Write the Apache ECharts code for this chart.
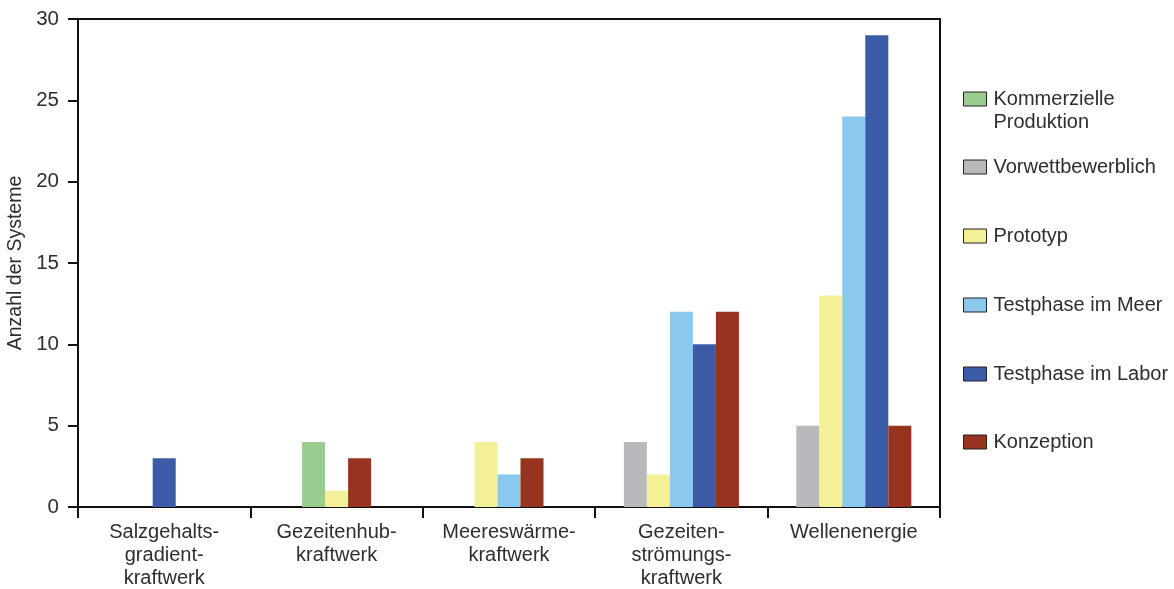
<!DOCTYPE html>
<html>
<head>
<meta charset="utf-8">
<script src="https://cdn.jsdelivr.net/npm/echarts@6/dist/echarts.min.js"></script>
<style>
  html, body { margin: 0; padding: 0; background: #fff; }
  #main { width: 1174px; height: 589px; }
</style>
</head>
<body>
<div id="main"></div>
<script>
// Kategorien (x-Achse)
var categories = [
  'Salzgehalts-\ngradient-\nkraftwerk',
  'Gezeitenhub-\nkraftwerk',
  'Meereswärme-\nkraftwerk',
  'Gezeiten-\nströmungs-\nkraftwerk',
  'Wellenenergie'
];
var seriesNames = [
  'Kommerzielle Produktion',
  'Vorwettbewerblich',
  'Prototyp',
  'Testphase im Meer',
  'Testphase im Labor',
  'Konzeption'
];
var kommerziell = [0, 4, 0, 0, 0];
var vorwettbewerblich = [0, 0, 0, 4, 5];
var prototyp = [0, 1, 4, 2, 13];
var testMeer = [0, 0, 2, 12, 24];
var testLabor = [3, 0, 0, 10, 29];
var konzeption = [0, 3, 3, 12, 5];
var yTicks = [0, 5, 10, 15, 20, 25, 30];

var allValues = [kommerziell, vorwettbewerblich, prototyp, testMeer, testLabor, konzeption];
var colors = ['#98cd8d', '#b8b9bc', '#f3f097', '#8ac8ee', '#3c5ba7', '#96341f'];
var legendCenters = [99, 167, 236, 305, 374, 442];

var textColor = '#2e2e2e';
var font = '"Liberation Sans", Arial, sans-serif';

// Balken pro Kategorie zentriert, nur die vorhandenen Werte
function makeRender(s) {
  return function (params, api) {
    var cat = api.value(0);
    var val = api.value(1);
    if (!val) return null;
    var present = [];
    for (var i = 0; i < allValues.length; i++) {
      if (allValues[i][cat] > 0) present.push(i);
    }
    var k = present.indexOf(s);
    var n = present.length;
    var bandW = api.size([1, 0])[0];
    var barW = bandW * 0.1335;
    var base = api.coord([cat, 0]);
    var top = api.coord([cat, val]);
    return {
      type: 'rect',
      shape: {
        x: base[0] - n * barW / 2 + k * barW,
        y: top[1],
        width: barW,
        height: base[1] - top[1]
      },
      style: api.style()
    };
  };
}

var series = [];
var legends = [];
for (var s = 0; s < seriesNames.length; s++) {
  series.push({
    name: seriesNames[s],
    type: 'custom',
    renderItem: makeRender(s),
    itemStyle: { color: colors[s] },
    encode: { x: 0, y: 1 },
    data: allValues[s].map(function (v, i) { return [i, v]; })
  });
  var first = s === 0;
  legends.push({
    left: 963,
    top: first ? legendCenters[s] - 34.5 : legendCenters[s] - 11.5,
    padding: 0,
    itemWidth: 23,
    itemHeight: 14,
    itemGap: 0,
    icon: 'rect',
    itemStyle: { borderColor: '#222', borderWidth: 1 },
    // leere erste Zeile, damit "Kommerzielle" auf Höhe des Symbols steht
    formatter: function (name) {
      return name === 'Kommerzielle Produktion' ? ' \nKommerzielle\nProduktion' : name;
    },
    textStyle: {
      color: textColor,
      fontFamily: font,
      fontSize: 20,
      lineHeight: 23,
      padding: [0, 0, 0, 2]
    },
    data: [seriesNames[s]]
  });
}

var myChart = echarts.init(document.getElementById('main'));
myChart.setOption({
  animation: false,
  legend: legends,
  grid: {
    left: 78,
    right: 234,
    top: 19,
    bottom: 82,
    outerBoundsMode: 'none',
    show: true,
    borderColor: '#111',
    borderWidth: 2
  },
  xAxis: {
    type: 'category',
    data: categories,
    axisLine: { lineStyle: { color: '#111', width: 2 } },
    axisTick: { show: true, length: 11, lineStyle: { color: '#111', width: 2 } },
    axisLabel: {
      interval: 0,
      margin: 14,
      color: textColor,
      fontFamily: font,
      fontSize: 20,
      lineHeight: 23
    },
    splitLine: { show: false }
  },
  yAxis: {
    type: 'value',
    min: yTicks[0],
    max: yTicks[yTicks.length - 1],
    interval: 5,
    name: 'Anzahl der Systeme',
    nameLocation: 'middle',
    nameGap: 52,
    nameTextStyle: { color: textColor, fontFamily: font, fontSize: 19.5 },
    axisLine: { show: true, lineStyle: { color: '#111', width: 2 } },
    axisTick: { show: true, length: 10, lineStyle: { color: '#111', width: 2 } },
    axisLabel: {
      margin: 19,
      color: textColor,
      fontFamily: font,
      fontSize: 20.5
    },
    splitLine: { show: false }
  },
  series: series
});
window.addEventListener('resize', function () {
  myChart.resize();
});
</script>
</body>
</html>
